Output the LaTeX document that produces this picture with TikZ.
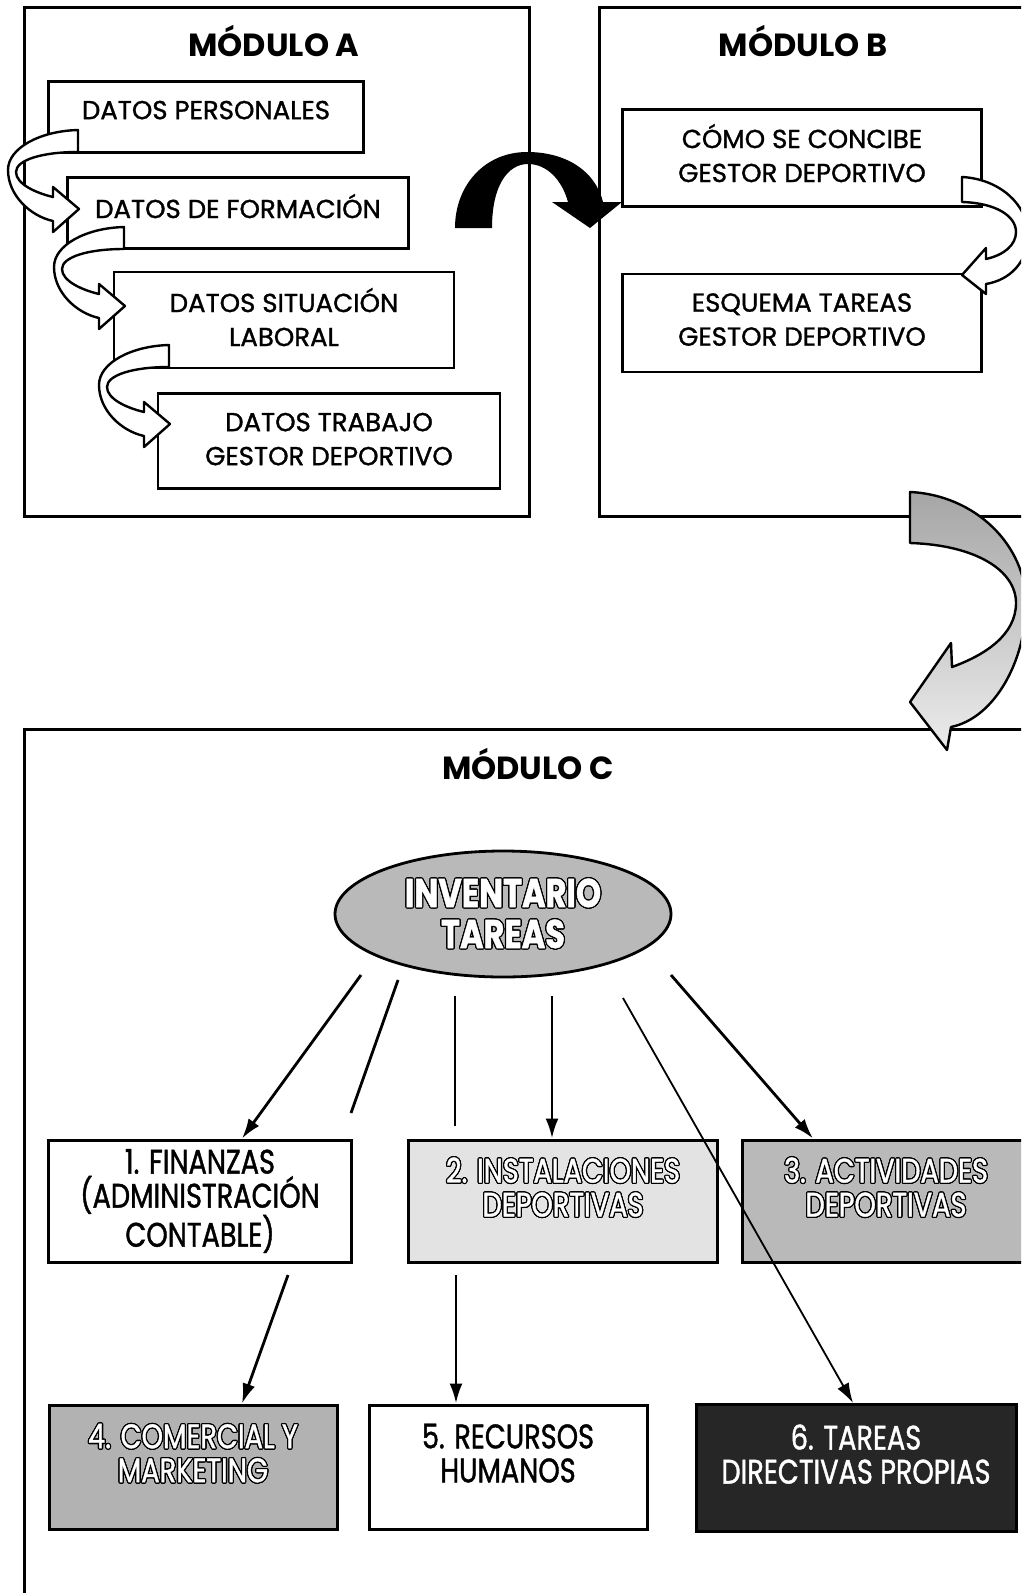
\documentclass[tikz,border=0pt]{standalone}
\usepackage{fontspec}
\setmainfont{Poppins}
\newfontfamily\boxfont[FakeBold=1.2]{Poppins}
\newfontfamily\narrowfont[FakeStretch=0.8,FakeBold=1.2]{Poppins}
\usepackage[copies]{contour}
\contourlength{1.2pt}
\usetikzlibrary{arrows.meta,shapes.geometric}

\newcommand{\hollow}[1]{\contour{black}{#1}}

\begin{document}
\begin{tikzpicture}[
  x=1pt, y=-1pt,
  line width=2.8pt,
  modbox/.style={draw,line width=3pt},
  modtitle/.style={font=\fontsize{32}{36}\selectfont\bfseries},
  item/.style={draw,fill=white,line width=2.8pt,align=center,inner sep=0pt,
    font=\boxfont\fontsize{26}{34}\selectfont},
  task/.style={draw,line width=3pt,align=center,inner sep=0pt,
    font=\narrowfont\fontsize{34}{34}\selectfont},
  lift/.style={text depth=#1},
  upper/.style={text depth=28pt},
  ribbon/.style={draw,fill=white,line width=2.4pt,line join=round},
  flow/.style={-{Latex[length=20pt,width=13pt]},line width=2.8pt},
  bare/.style={line width=2.8pt}
]
\useasboundingbox (0,0) rectangle (1021,1593);
\clip (0,0) rectangle (1021,1593);

\draw[modbox] (24,7) rectangle (529,516);
\draw[modbox] (599,7) rectangle (1040,516);
\draw[modbox] (24,729) rectangle (1040,1620);

\node[modtitle] (ta) at (274,41) {MÓDULO A};
\node[modtitle] (tb) at (803,41) {MÓDULO B};
\node[modtitle] (tc) at (528,764) {MÓDULO C};

\node[item,lift=14pt,minimum width=315pt,minimum height=71pt] (pers) at (206,117) {DATOS PERSONALES};
\node[item,lift=14pt,minimum width=341pt,minimum height=71pt] (form) at (238,213) {DATOS DE FORMACIÓN};
\node[item,lift=6pt,minimum width=340pt,minimum height=96pt] (sit) at (284,320) {DATOS SITUACIÓN\\LABORAL};
\node[item,lift=4pt,minimum width=342pt,minimum height=95pt] (trab) at (329,441) {DATOS TRABAJO\\GESTOR DEPORTIVO};

\node[item,lift=10pt,minimum width=359pt,minimum height=97pt] (conc) at (802,158) {CÓMO SE CONCIBE\\GESTOR DEPORTIVO};
\node[item,lift=7pt,minimum width=359pt,minimum height=98pt] (esq) at (802,323) {ESQUEMA TAREAS\\GESTOR DEPORTIVO};

\foreach \dx/\dy in {0/0,46/97,91/215}
  \draw[ribbon,shift={(\dx,\dy)}] (78,130) .. controls (40,131) and (8,148) .. (8,170)
    .. controls (8,195) and (30,216) .. (53,221) -- (53,232) -- (79,209) -- (53,187) -- (53,197)
    .. controls (36,193) and (16,184) .. (16,172) .. controls (16,160) and (42,152) .. (78,152) -- cycle;

\fill[black] (455,228) .. controls (455,185) and (485,152) .. (527,152)
  .. controls (565,152) and (595,170) .. (603,202) -- (622,202) -- (590,228) -- (552,202) -- (568,202)
  .. controls (562,180) and (547,164) .. (528,164) .. controls (508,164) and (492,185) .. (492,228) -- cycle;

\draw[ribbon] (962,177) .. controls (1000,179) and (1028,205) .. (1028,235)
  .. controls (1028,262) and (1010,280) .. (986,284) -- (986,294) -- (962,275) -- (986,248) -- (986,259)
  .. controls (1004,255) and (1016,245) .. (1016,232) .. controls (1016,216) and (996,203) .. (962,202) -- cycle;

\draw[ribbon,top color=gray!70,bottom color=gray!15] (910,492) .. controls (975,495) and (1026,545) .. (1026,603)
  .. controls (1026,660) and (995,718) .. (951,727) -- (947,750) -- (910,702) -- (951,643) -- (952,667)
  .. controls (985,655) and (1016,635) .. (1016,603) .. controls (1016,570) and (975,545) .. (910,543) -- cycle;

\node[draw,ellipse,fill=gray!55,line width=2.8pt,minimum width=336pt,minimum height=126pt,inner sep=0pt,
  text=white,align=center,font=\narrowfont\bfseries\fontsize{40}{41}\selectfont] (inv) at (503,914)
  {\hollow{INVENTARIO}\\\hollow{TAREAS}};

\node[task,fill=white,minimum width=303pt,minimum height=122pt] (fin) at (200,1201) {1. FINANZAS\\(ADMINISTRACIÓN\\CONTABLE)};
\node[task,upper,fill=gray!22,text=white,minimum width=309pt,minimum height=122pt] (inst) at (563,1201) {\hollow{2. INSTALACIONES}\\\hollow{DEPORTIVAS}};
\node[task,upper,fill=gray!55,text=white,minimum width=287pt,minimum height=122pt] (act) at (886,1201) {\hollow{3. ACTIVIDADES}\\\hollow{DEPORTIVAS}};
\node[task,upper,fill=gray!60,text=white,minimum width=288pt,minimum height=124pt] (com) at (193,1467) {\hollow{4. COMERCIAL Y}\\\hollow{MARKETING}};
\node[task,upper,fill=white,minimum width=278pt,minimum height=124pt] (rrhh) at (508,1467) {5. RECURSOS\\HUMANOS};
\node[task,upper,fill=black!85,text=white,minimum width=320pt,minimum height=127pt] (dir) at (856,1468) {6. TAREAS\\DIRECTIVAS PROPIAS};

\coordinate (c1a) at (351,1113);
\coordinate (c1b) at (288,1275);
\coordinate (c2a) at (455,1126);
\coordinate (c2b) at (456,1275);

\draw[flow] ([shift={(-142,61)}]inv.center) -- ([xshift=42pt]fin.north);
\draw[bare] ([shift={(-105,66)}]inv.center) -- (c1a);
\draw[bare] ([shift={(-48,82)}]inv.center) -- (c2a);
\draw[flow] ([shift={(49,82)}]inv.center) -- ([xshift=-11pt]inst.north);
\draw[flow,line width=1.8pt] ([shift={(120,84)}]inv.center) -- ([xshift=-3pt]dir.north);
\draw[flow] ([shift={(168,61)}]inv.center) -- ([xshift=-73pt]act.north);
\draw[flow] (c1b) -- ([xshift=49pt]com.north);
\draw[flow] (c2b) -- ([xshift=-52pt]rrhh.north);
\end{tikzpicture}
\end{document}
